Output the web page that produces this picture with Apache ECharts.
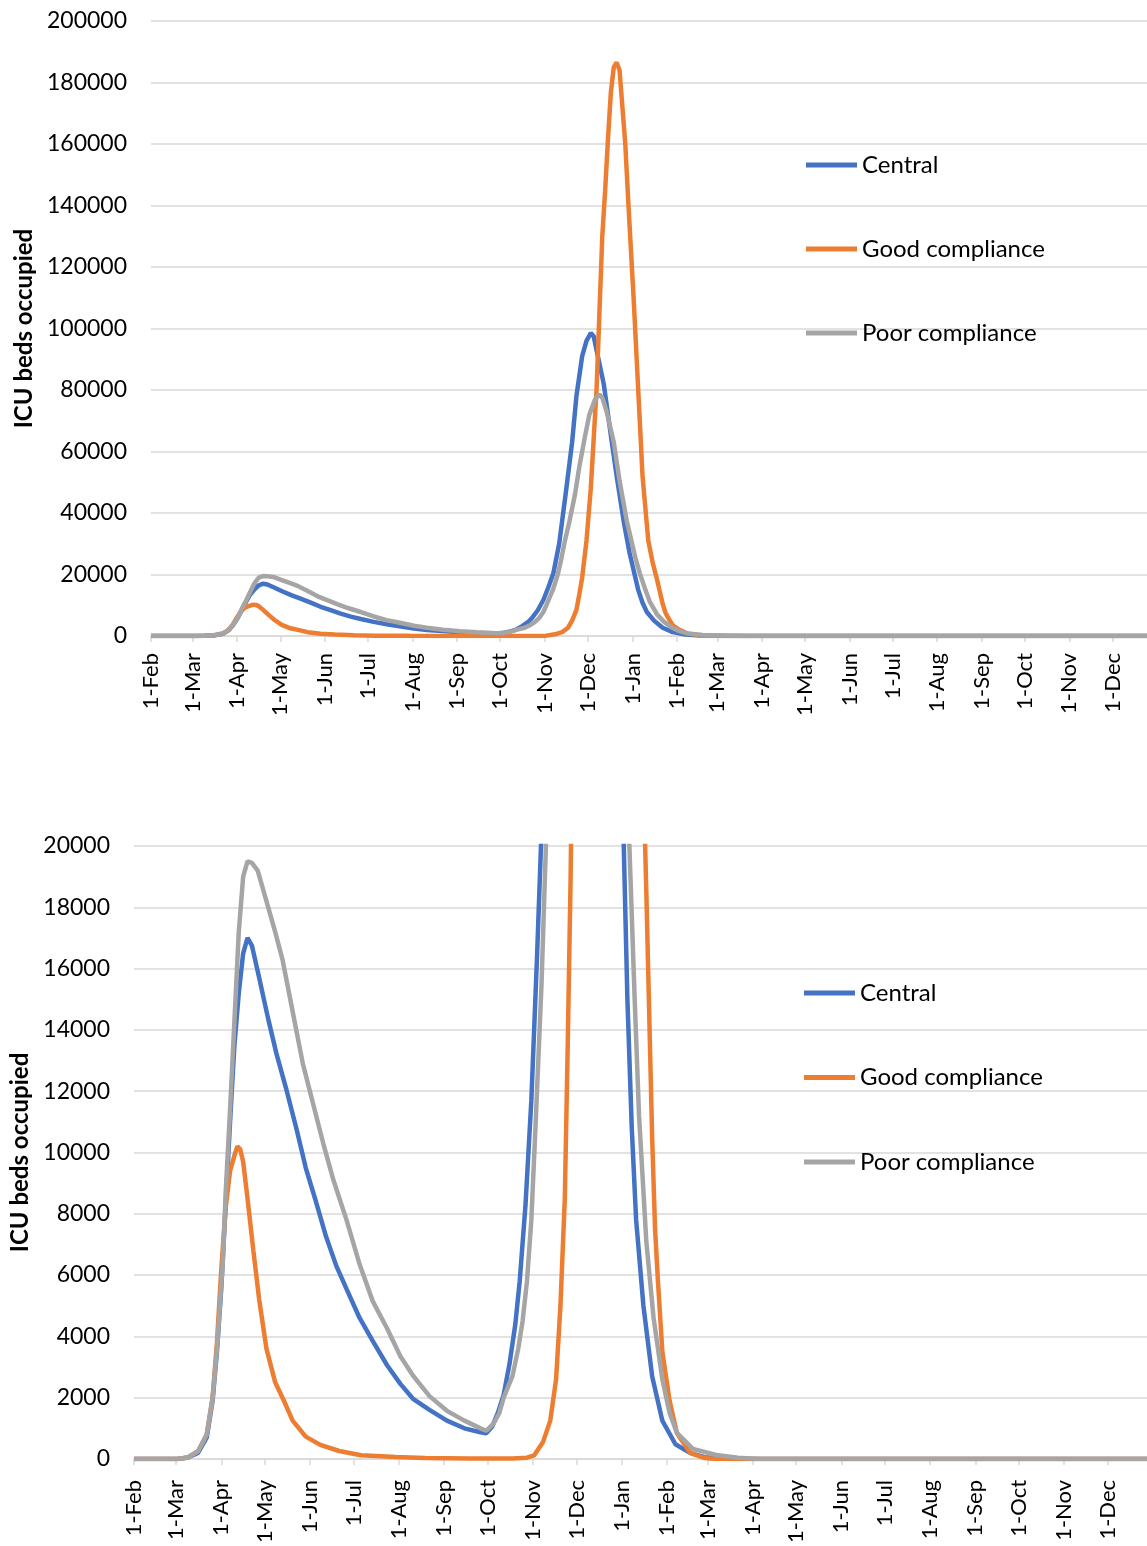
<!DOCTYPE html>
<html>
<head>
<meta charset="utf-8">
<script src="https://cdn.jsdelivr.net/npm/echarts@6/dist/echarts.min.js"></script>
<style>
  html, body { margin: 0; padding: 0; background: #fff; }
  #main { width: 1147px; height: 1546px; }
</style>
</head>
<body>
<div id="main"></div>
<script>
// axis: one category per day, starting 1-Feb
var monthNames = ["Jan", "Feb", "Mar", "Apr", "May", "Jun", "Jul", "Aug", "Sep", "Oct", "Nov", "Dec"];
var firstDay = [2020, 1, 1];
var dayCount = 700;
var seriesNames = ["Central", "Good compliance", "Poor compliance"];

// [days since 1-Feb, ICU beds occupied]
var central = [
  [0, 0], [30, 0], [37, 50], [44, 200], [50, 700], [54, 1900], [57, 3500], [60, 5600],
  [63, 8300], [66, 11000], [69, 13500], [72, 15200], [75, 16500], [78, 17000], [81, 16750],
  [86, 15700], [92, 14400], [98, 13200], [105, 12000], [112, 10700], [118, 9500], [125, 8400],
  [132, 7250], [139, 6300], [146, 5550], [155, 4600], [164, 3850], [174, 3050], [183, 2450],
  [192, 1950], [203, 1600], [215, 1250], [227, 1000], [238, 870], [242, 840], [246, 1050],
  [250, 1500], [254, 2100], [258, 3100], [262, 4400], [265, 5800], [269, 8300], [273, 11700],
  [277, 16500], [280, 20500], [284, 30000], [289, 48000], [293, 63000], [296, 78000],
  [300, 91000], [303, 96000], [306, 98500], [308, 97500], [310, 93000], [315, 82000],
  [319, 68500], [324, 52000], [329, 37000], [333, 27000], [336, 21000], [339, 15000],
  [342, 10800], [345, 7800], [350, 5000], [356, 2700], [363, 1250], [372, 480], [382, 200],
  [392, 60], [405, 10], [420, 0], [699, 0]
];
var goodCompliance = [
  [0, 0], [30, 0], [37, 50], [44, 250], [50, 800], [54, 2000], [57, 3800], [60, 6200],
  [63, 8200], [66, 9400], [69, 9900], [71, 10200], [73, 10100], [75, 9700], [78, 8500],
  [82, 6800], [86, 5200], [91, 3600], [97, 2500], [103, 1900], [109, 1250], [118, 730],
  [128, 460], [141, 260], [156, 120], [180, 60], [200, 30], [230, 15], [260, 15], [270, 40],
  [275, 120], [281, 550], [286, 1250], [290, 2600], [293, 5000], [296, 8500], [298, 13500],
  [300, 19000], [303, 31000], [306, 48000], [310, 80000], [312, 105000], [314, 130000],
  [316, 145000], [318, 162000], [320, 177000], [322, 185000], [324, 186500], [326, 184000],
  [328, 172000], [330, 160000], [332, 142000], [334, 125000], [336, 108000], [339, 80000],
  [342, 52000], [346, 31000], [349, 24000], [352, 18500], [354, 14500], [356, 10500],
  [358, 7500], [360, 5800], [363, 3500], [368, 1900], [373, 850], [382, 200], [392, 30],
  [400, 0], [699, 0]
];
var poorCompliance = [
  [0, 0], [30, 0], [37, 50], [44, 250], [50, 800], [54, 2000], [57, 3600], [61, 6400],
  [63, 8700], [66, 11400], [69, 14300], [72, 17200], [75, 19000], [78, 19500], [81, 19450],
  [85, 19200], [91, 18200], [97, 17200], [102, 16300], [109, 14600], [116, 12900], [123, 11600],
  [130, 10300], [137, 9100], [146, 7800], [155, 6350], [164, 5150], [174, 4250], [183, 3350],
  [192, 2700], [203, 2050], [215, 1570], [227, 1250], [238, 1000], [242, 920], [247, 1150],
  [251, 1500], [254, 2000], [260, 2700], [264, 3600], [267, 4500], [270, 5800], [273, 7800],
  [276, 11000], [280, 15500], [283, 20000], [285, 24000], [288, 31000], [291, 37000],
  [295, 46000], [298, 55000], [302, 65000], [305, 72000], [309, 77000], [312, 78500],
  [314, 77500], [317, 73000], [322, 63000], [326, 50500], [331, 37500], [337, 25500],
  [340, 20500], [344, 15000], [347, 11200], [352, 7100], [357, 4600], [363, 2600], [368, 1500],
  [373, 850], [384, 330], [400, 130], [415, 40], [430, 0], [699, 0]
];

var colors = ["#4472C4", "#ED7D31", "#A5A5A5"];

var days = [];
for (var i = 0; i < dayCount; i++) {
  var d = new Date(Date.UTC(firstDay[0], firstDay[1], firstDay[2] + i));
  days.push(d.getUTCDate() + "-" + monthNames[d.getUTCMonth()]);
}

function isMonthStart(index, value) {
  return value.indexOf("1-") === 0;
}

function makeXAxis(gridIndex, maxDay, margin) {
  return {
    type: "category",
    gridIndex: gridIndex,
    data: days,
    boundaryGap: false,
    max: maxDay,
    axisLine: { lineStyle: { color: "#D9D9D9", width: 1.5 } },
    axisTick: { interval: isMonthStart, length: 6, lineStyle: { color: "#D9D9D9", width: 1.5 } },
    axisLabel: {
      interval: isMonthStart,
      rotate: 90,
      margin: margin,
      fontFamily: "Lato",
      fontSize: 22,
      color: "#000"
    },
    splitLine: { show: false }
  };
}

function makeYAxis(gridIndex, max, interval, nameGap) {
  return {
    type: "value",
    gridIndex: gridIndex,
    min: 0,
    max: max,
    interval: interval,
    name: "ICU beds occupied",
    nameLocation: "middle",
    nameRotate: 90,
    nameGap: nameGap,
    nameTextStyle: { fontFamily: "Lato", fontWeight: "bold", fontSize: 24, color: "#000" },
    axisLine: { show: false },
    axisTick: { show: false },
    axisLabel: {
      margin: 24,
      fontFamily: "Lato",
      fontSize: 23,
      color: "#000",
      formatter: function (v) { return String(v); }
    },
    splitLine: { lineStyle: { color: "#D9D9D9", width: 1.5 } }
  };
}

function makeLegend(left, top, gap) {
  return {
    orient: "vertical",
    left: left,
    top: top,
    padding: 0,
    icon: "rect",
    itemWidth: 51,
    itemHeight: 5,
    itemGap: gap,
    data: seriesNames,
    textStyle: { fontFamily: "Lato", fontSize: 24, lineHeight: 24, color: "#000" }
  };
}

var allData = [central, goodCompliance, poorCompliance];
var series = [];
for (var g = 0; g < 2; g++) {
  for (var s = 0; s < 3; s++) {
    series.push({
      name: seriesNames[s],
      type: "line",
      xAxisIndex: g,
      yAxisIndex: g,
      data: allData[s],
      showSymbol: false,
      symbol: "none",
      color: colors[s],
      lineStyle: { width: 4.5, color: colors[s] },
      animation: false
    });
  }
}

var myChart = echarts.init(document.getElementById("main"));
myChart.setOption({
  backgroundColor: "#fff",
  animation: false,
  grid: [
    { left: 151, top: 21, right: 0, height: 615 },
    { left: 134, top: 846, right: 0, height: 616 }
  ],
  xAxis: [makeXAxis(0, 693, 17), makeXAxis(1, 696, 21)],
  yAxis: [makeYAxis(0, 200000, 20000, 110), makeYAxis(1, 20000, 2000, 95)],
  legend: [makeLegend(806, 153, 60), makeLegend(804, 981, 60.5)],
  series: series
});
</script>
</body>
</html>
